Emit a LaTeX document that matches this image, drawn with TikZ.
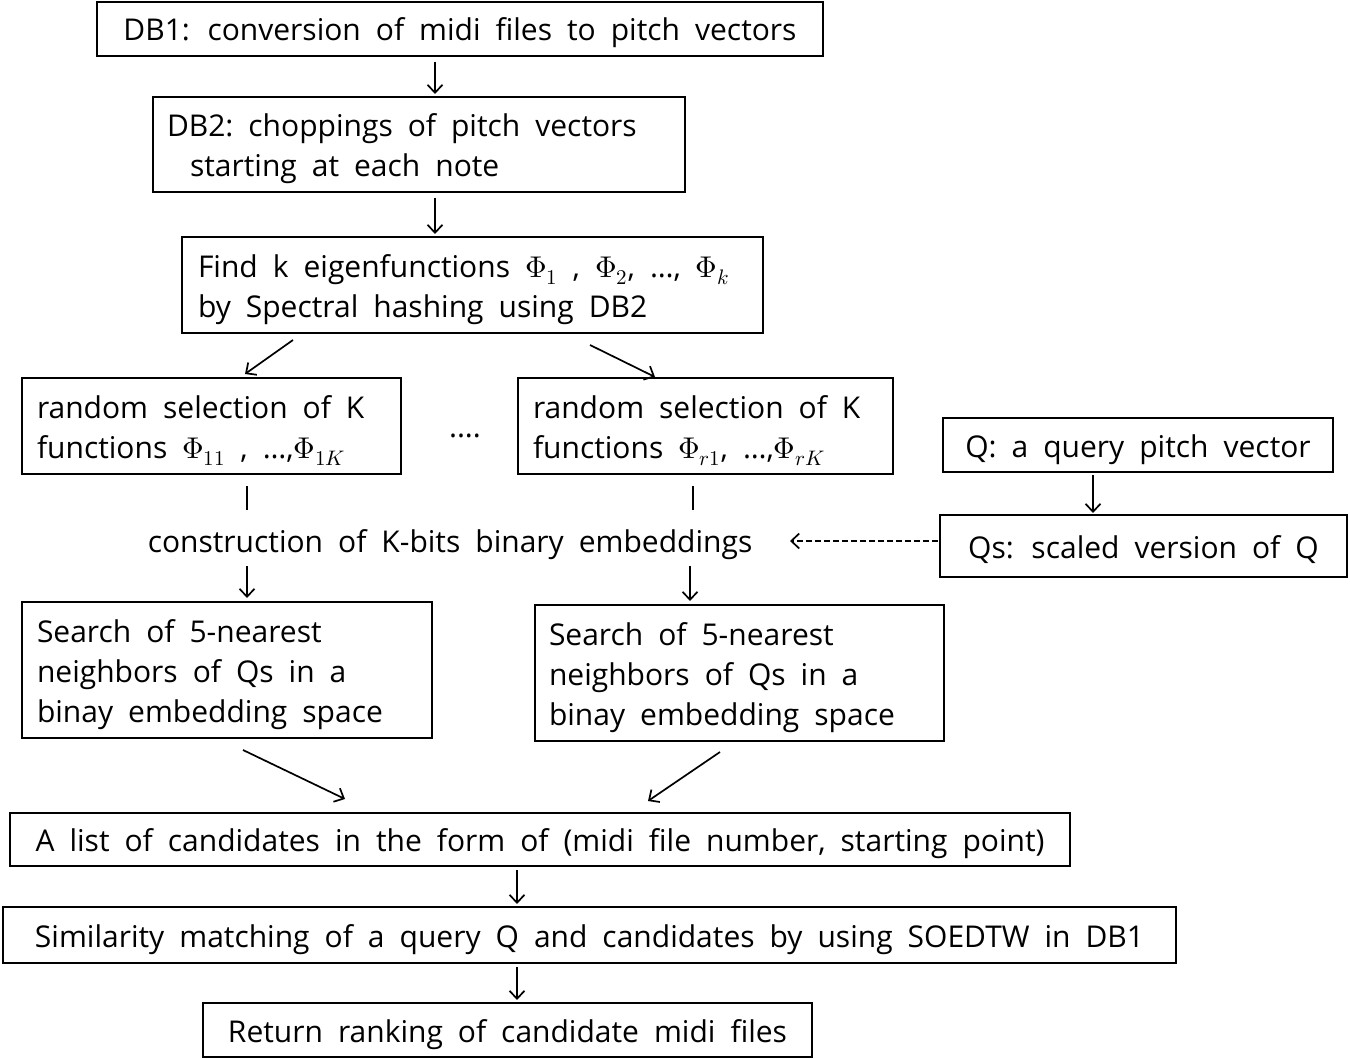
\documentclass[tikz,border=0pt]{standalone}
\usepackage{fontspec}
\usepackage{unicode-math}
\setmainfont{Open Sans}
\setmathfont{Latin Modern Math}
\usetikzlibrary{arrows.meta,calc}
\newcommand{\bodyfont}{\fontsize{30}{40}\selectfont\spaceskip=0.5em plus 0.1em minus 0.1em\relax}
\newcommand{\fst}{\rule{0pt}{32pt}}
\begin{document}
\begin{tikzpicture}[x=1pt,y=-1pt,
  every node/.style={font=\bodyfont},
  frame/.style={draw, line width=1.7pt, inner ysep=0pt, anchor=center},
  box/.style={frame, text height=31pt, text depth=7pt},
  plain/.style={text height=31pt, text depth=7pt},
  lbox/.style={frame, align=left, execute at begin node={\bodyfont}},
  arr/.style={line width=1.7pt, -{Straight Barb[length=8pt,width=15pt,line width=1.7pt]}},
  ln/.style={line width=1.7pt}]
\useasboundingbox (0,0) rectangle (1350,1059);
% boxes
\node[box, minimum width=726pt, minimum height=54pt] (db1) at (460,29) {DB1: conversion of midi files to pitch vectors};
\node[lbox, inner xsep=14pt, text width=504pt, minimum height=95pt] (db2) at (419,144.5) {\mbox{\fst DB2: choppings of pitch vectors}\\\mbox{\hspace*{23pt}starting at each note}};
\node[lbox, inner xsep=16pt, text width=549pt, minimum height=96pt] (eig) at (472.5,285) {\mbox{\fst Find k eigenfunctions $\Phi_1$ , $\Phi_2$, …, $\Phi_k$}\\\mbox{by Spectral hashing using DB2}};
\node[lbox, inner xsep=15pt, text width=349pt, minimum height=96pt] (r1) at (211.5,426) {\mbox{\fst random selection of K}\\\mbox{functions $\Phi_{11}$ , …,$\Phi_{1K}$}};
\node[lbox, inner xsep=15pt, text width=345pt, minimum height=96pt] (r2) at (705.5,426) {\mbox{\fst random selection of K}\\\mbox{functions $\Phi_{r1}$, …,$\Phi_{rK}$}};
\node[plain] (dots) at (465,425) {....};
\node[box, minimum width=390pt, minimum height=54pt] (q) at (1138,445) {Q: a query pitch vector};
\node[box, minimum width=407pt, minimum height=62pt] (qs) at (1143.5,546) {Qs: scaled version of Q};
\node[plain] (cons) at (450,540) {construction of K-bits binary embeddings};
\node[lbox, inner xsep=15pt, text width=380pt, minimum height=136pt] (s1) at (227,670) {\mbox{\fst Search of 5-nearest}\\\mbox{neighbors of Qs in a}\\\mbox{binay embedding space}};
\node[lbox, inner xsep=14pt, text width=381pt, minimum height=136pt] (s2) at (739.5,673) {\mbox{\fst Search of 5-nearest}\\\mbox{neighbors of Qs in a}\\\mbox{binay embedding space}};
\node[box, minimum width=1060pt, minimum height=53pt] (cand) at (540,839.5) {A list of candidates in the form of (midi file number, starting point)};
\node[box, minimum width=1173pt, minimum height=56pt] (sim) at (589.5,935) {Similarity matching of a query Q and candidates by using SOEDTW in DB1};
\node[box, minimum width=609pt, minimum height=54pt] (ret) at (507.5,1030) {Return ranking of candidate midi files};
% connectors
\coordinate (a1s) at (435,62); \coordinate (a1e) at (435,94);
\draw[arr] (a1s) -- (a1e);
\coordinate (a2s) at (435,198); \coordinate (a2e) at (435,234);
\draw[arr] (a2s) -- (a2e);
\coordinate (a3s) at (293,340); \coordinate (a3e) at (245,374);
\draw[arr] (a3s) -- (a3e);
\coordinate (a4s) at (590,345); \coordinate (a4e) at (655,377);
\draw[arr] (a4s) -- (a4e);
\coordinate (l1s) at (247,486); \coordinate (l1e) at (247,510);
\draw[ln] (l1s) -- (l1e);
\coordinate (l2s) at (693,486); \coordinate (l2e) at (693,510);
\draw[ln] (l2s) -- (l2e);
\coordinate (a5s) at (1093,475); \coordinate (a5e) at (1093,513);
\draw[arr] (a5s) -- (a5e);
\coordinate (d1s) at (938,541); \coordinate (d1e) at (790,541);
\draw[arr, dash pattern=on 6pt off 3pt] (d1s) -- (d1e);
\coordinate (a6s) at (247,566); \coordinate (a6e) at (247,598);
\draw[arr] (a6s) -- (a6e);
\coordinate (a7s) at (690,566); \coordinate (a7e) at (690,601);
\draw[arr] (a7s) -- (a7e);
\coordinate (a8s) at (243,750); \coordinate (a8e) at (345,799);
\draw[arr] (a8s) -- (a8e);
\coordinate (a9s) at (720,752); \coordinate (a9e) at (648,801);
\draw[arr] (a9s) -- (a9e);
\coordinate (a10s) at (517,870); \coordinate (a10e) at (517,904);
\draw[arr] (a10s) -- (a10e);
\coordinate (a11s) at (517,967); \coordinate (a11e) at (517,1000);
\draw[arr] (a11s) -- (a11e);
\end{tikzpicture}
\end{document}
